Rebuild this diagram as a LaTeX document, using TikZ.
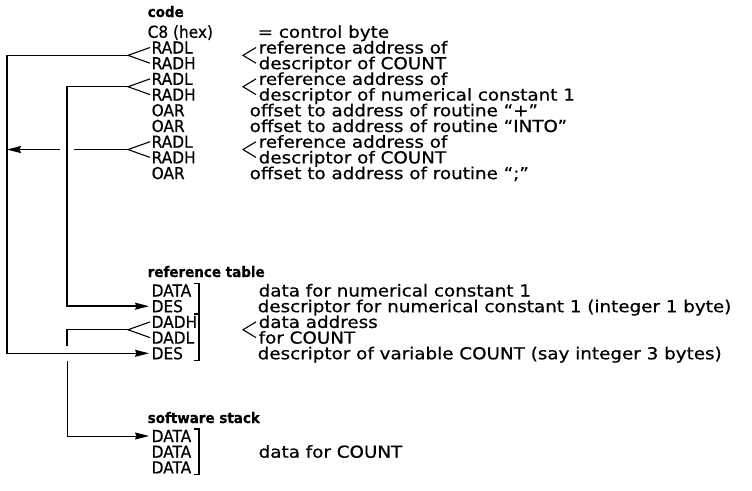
\documentclass[tikz,border=0pt]{standalone}
\usepackage{fontspec}
\setmainfont{DejaVu Sans}
\newfontfamily\wideface{DejaVu Sans}[FakeStretch=1.11,FakeBold=0.6]
\newfontfamily\narrowface{DejaVu Sans}[FakeStretch=0.93,FakeBold=0.6]
\usetikzlibrary{arrows.meta}
\newcommand{\fork}[4]{
	\coordinate (#1) at (#2,#3);
	\draw[line width=1.1pt] (#2+#4,#3-7.85) -- (#1) -- (#2+#4,#3+7.85);
}
\newcommand{\brak}[3]{
	\draw[line width=1.1pt] (#1-5,#2) -- (#1,#2) -- (#1,#3) -- (#1-5,#3);
}
\newcommand{\leftfont}{\narrowface\fontsize{16.5}{17}\selectfont}
\newcommand{\rightfont}{\wideface\fontsize{16.5}{17}\selectfont}
\newcommand{\headfont}{\narrowface\fontsize{14.5}{15}\selectfont\bfseries}

\begin{document}
\begin{tikzpicture}[x=1pt,y=-1pt,line width=1.4pt,
		>={Stealth[length=14pt,width=7pt,inset=1.5pt]},
		ltxt/.style={anchor=base west,inner sep=0pt,font=\leftfont},
		rtxt/.style={anchor=base west,inner sep=0pt,font=\rightfont},
		head/.style={anchor=base west,inner sep=0pt,font=\headfont}]
	\useasboundingbox (0,0) rectangle (752,490);
	\node[head] (hcode) at (147,17) {code};
	\foreach \t [count=\i] in {C8 (hex),RADL,RADH,RADL,RADH,OAR,OAR,RADL,RADH,OAR} {
		\node[ltxt] (c\i) at ({\i==1 ? 147 : 151},{31.8+15.7*(\i-1)+6}) {\t};
	}
	\node[head] (hreft) at (147,277) {reference table};
	\foreach \t [count=\i] in {DATA,DES,DADH,DADL,DES} {
		\node[ltxt] (r\i) at (151,{290.5+15.7*(\i-1)+6}) {\t};
	}
	\node[head] (hstack) at (147,423) {software stack};
	\foreach \i in {1,...,3} {
		\node[ltxt] (s\i) at (151,{436+15.7*(\i-1)+6}) {DATA};
	}
	\foreach \y/\x/\t [count=\i] in {
			31.8/257/{= control byte},
			47.5/258/{reference address of},
			63.2/258/{descriptor of COUNT},
			78.9/258/{reference address of},
			94.6/258/{descriptor of numerical constant 1},
			110.3/249/{offset to address of routine “+”},
			126/249/{offset to address of routine “INTO”},
			141.7/258/{reference address of},
			157.4/258/{descriptor of COUNT},
			173.1/249/{offset to address of routine “;”},
			290.5/258/{data for numerical constant 1},
			306.2/257/{descriptor for numerical constant 1 (integer 1 byte)},
			321.9/258/{data address},
			337.6/258/{for COUNT},
			353.3/257/{descriptor of variable COUNT (say integer 3 bytes)},
			451.7/258/{data for COUNT}} {
		\node[rtxt] (d\i) at (\x,\y+6) {\t};
	}
	\fork{fa}{128}{55.35}{22}
	\fork{fb}{128}{86.75}{22}
	\fork{fc}{128}{149.55}{22}
	\fork{fd}{128}{329.75}{22}
	\fork{ga}{243}{55.35}{13}
	\fork{gb}{243}{86.75}{13}
	\fork{gc}{243}{149.55}{13}
	\fork{gd}{243}{329.75}{13}
	\brak{199}{283.5}{313.2}
	\brak{199}{314.9}{360.3}
	\brak{199}{429}{474.4}
	\coordinate (xa) at (7,0);
	\coordinate (xb) at (67,0);
	\coordinate (ka) at (74,149.55);
	\coordinate (kb) at (60,149.55);
	\coordinate (ja) at (67,346);
	\coordinate (jb) at (67,361);
	\draw[->,shorten >=2pt] (fa) -- (fa -| xa) |- (r5.west);
	\draw[->,shorten >=2pt] (fb) -- (fb -| xb) |- (r2.west);
	\draw (fc) -- (ka);
	\draw[->] (kb) -- (kb -| xa);
	\draw (fd) -- (fd -| xb) -- (ja);
	\draw[->,shorten >=2pt,line width=0.8pt] (jb) |- (s1.west);
\end{tikzpicture}
\end{document}
